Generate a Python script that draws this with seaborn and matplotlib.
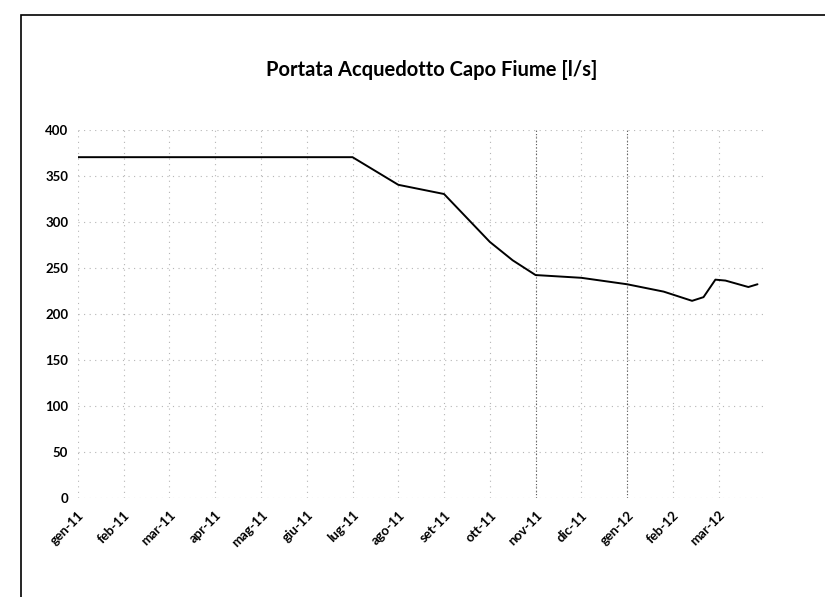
import matplotlib
matplotlib.use("Agg")
import matplotlib.pyplot as plt
import seaborn as sns
import pandas as pd
from matplotlib.patches import Rectangle

# ----------------------------
# Data (month index: 0 = gen-11)
# ----------------------------
months = [0, 1, 2, 3, 4, 5, 6, 7, 8, 9, 9.5, 10, 11, 12, 12.8, 13.42, 13.67, 13.93, 14.15, 14.65, 14.85]
portata = [370, 370, 370, 370, 370, 370, 370, 340, 330, 278, 258, 242, 239, 232, 224, 214, 218, 237, 236, 229, 232]
month_labels = ["gen-11", "feb-11", "mar-11", "apr-11", "mag-11", "giu-11", "lug-11", "ago-11",
                "set-11", "ott-11", "nov-11", "dic-11", "gen-12", "feb-12", "mar-12"]
y_ticks = [0, 50, 100, 150, 200, 250, 300, 350, 400]
# months whose gridline shows darker in the scan
dark_grid = ["nov-11", "gen-12"]

df = pd.DataFrame({"mese": months, "portata": portata})

sns.set_style("white")
plt.rcParams['font.family'] = ['Lato', 'DejaVu Sans']
plt.rcParams['text.color'] = 'black'
plt.rcParams['xtick.color'] = 'black'
plt.rcParams['ytick.color'] = 'black'

fig = plt.figure(figsize=(8.25, 5.97), dpi=100)
ax = fig.add_axes([0.0945, 0.166, 0.832, 0.617])

ax.grid(True, color="#b5b5b5", linestyle=(0, (1, 4)), linewidth=0.8)
for m in dark_grid:
    ax.axvline(month_labels.index(m), color="#555555", linestyle=(0, (1, 2)), linewidth=0.8, zorder=1)

sns.lineplot(data=df, x="mese", y="portata", color="black", linewidth=1.4, ax=ax, zorder=3)

ax.set_xlim(0, 15.0)
ax.set_ylim(0, 400)
ax.set_xticks(range(len(month_labels)))
ax.set_xticklabels(month_labels, rotation=45, ha="right", rotation_mode="anchor",
                   fontsize=9.5, fontweight="bold")
ax.set_yticks(y_ticks)
ax.set_yticklabels([str(v) for v in y_ticks], fontsize=9.5, fontweight="bold")
ax.tick_params(axis="y", length=0, pad=7)
ax.tick_params(axis="x", length=0, pad=8)
for s in ax.spines.values():
    s.set_visible(False)
ax.set_xlabel("")
ax.set_ylabel("")

fig.text(0.523, 0.882, "Portata Acquedotto Capo Fiume [l/s]", ha="center", va="center",
         fontsize=14.5, fontweight="bold")

# chart frame (left and top borders)
fig.patches.append(Rectangle((0.025, -0.05), 1.2, 1.025, transform=fig.transFigure,
                             fill=False, edgecolor="black", linewidth=1.2))

plt.savefig("out.png", dpi=100)
plt.close()
